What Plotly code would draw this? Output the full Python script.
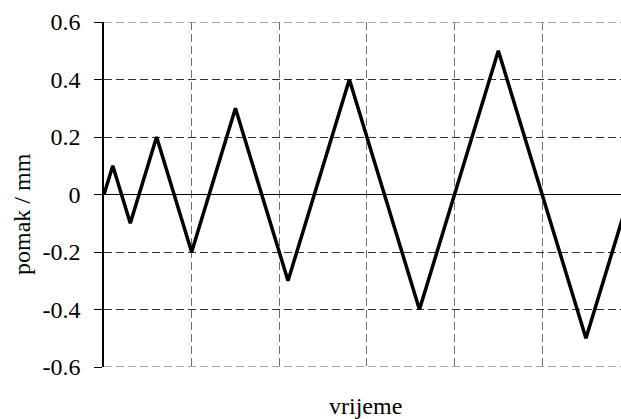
import plotly.graph_objects as go

# time (arbitrary units) and displacement (mm)
t = [0, 0.1, 0.3, 0.6, 1.0, 1.5, 2.1, 2.8, 3.6, 4.5, 5.5, 6.0]
pomak = [0, 0.1, -0.1, 0.2, -0.2, 0.3, -0.3, 0.4, -0.4, 0.5, -0.5, 0.0]
y_ticks = [-0.6, -0.4, -0.2, 0, 0.2, 0.4, 0.6]
y_labels = ["-0.6", "-0.4", "-0.2", "0", "0.2", "0.4", "0.6"]
y_min, y_max = -0.6, 0.6

fig = go.Figure(go.Scatter(x=t, y=pomak, mode="lines",
                           line=dict(color="black", width=3.5),
                           showlegend=False, hoverinfo="skip"))

font = dict(family="Liberation Serif", size=24, color="black")

fig.update_layout(
    width=621, height=419,
    margin=dict(l=104, r=0, t=22, b=52),
    plot_bgcolor="white", paper_bgcolor="white",
    font=font,
    annotations=[
        dict(text="vrijeme", xref="paper", yref="paper", x=0.506, y=-0.071,
             xanchor="center", yanchor="top", showarrow=False, font=font),
        dict(text="pomak / mm", xref="paper", yref="paper", x=-0.1586, y=0.4435,
             xanchor="center", yanchor="middle", textangle=-90,
             showarrow=False, font=font),
    ],
    shapes=[
        dict(type="line", xref="paper", yref="y", x0=0, x1=1, y0=v, y1=v,
             line=dict(color="#555555", width=1, dash="8px,4px"), layer="below")
        for v in (y_min, y_max)
    ],
)
fig.update_xaxes(
    range=[0, 5.9], tickvals=[1, 2, 3, 4, 5], showticklabels=False, ticks="",
    showgrid=True, gridcolor="#707070", gridwidth=1, griddash="8px,4px",
    zeroline=False, showline=False, automargin=False,
)
fig.update_yaxes(
    range=[y_min, y_max], tickvals=y_ticks, ticktext=y_labels,
    ticks="outside", ticklen=8, tickcolor="black", tickwidth=1,
    ticklabelstandoff=9,
    showgrid=True, gridcolor="#333333", gridwidth=1, griddash="8px,4px",
    zeroline=True, zerolinecolor="black", zerolinewidth=1,
    showline=True, linecolor="black", linewidth=1.5, automargin=False,
    tickfont=font,
)

fig.write_html(
    "out.html",
    config={"displayModeBar": False},
    post_script="document.body.style.margin='0';document.body.style.overflow='hidden';",
)
